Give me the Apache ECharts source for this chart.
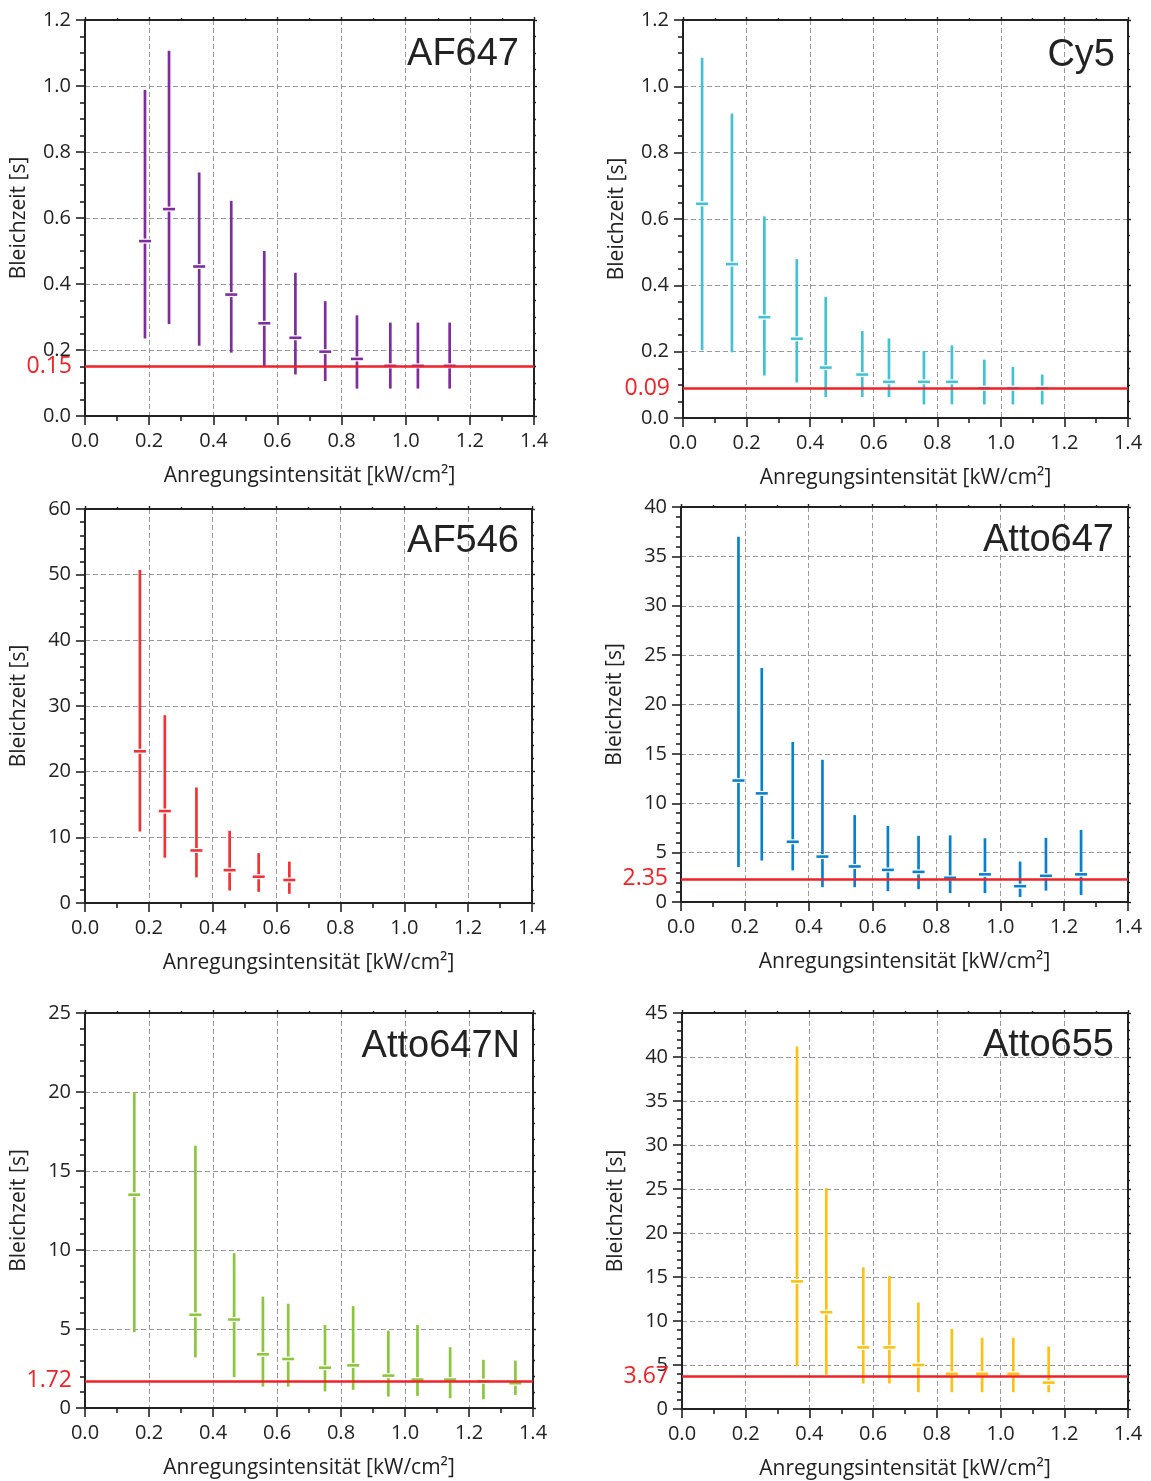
<!DOCTYPE html>
<html>
<head>
<meta charset="utf-8">
<script src="https://cdn.jsdelivr.net/npm/echarts@6/dist/echarts.min.js"></script>
<style>
html,body{margin:0;padding:0;background:#fff;}
#chart{width:1151px;height:1481px;}
</style>
</head>
<body>
<div id="chart"></div>
<script>
// ---- data (x = excitation intensity, low / mean / high = bleaching time range) ----
const xTicks = [0.0, 0.2, 0.4, 0.6, 0.8, 1.0, 1.2, 1.4];

const af647_x    = [0.187, 0.262, 0.356, 0.456, 0.559, 0.656, 0.749, 0.848, 0.952, 1.038, 1.137];
const af647_low  = [0.235, 0.279, 0.213, 0.192, 0.151, 0.126, 0.106, 0.083, 0.083, 0.083, 0.083];
const af647_mean = [0.530, 0.627, 0.453, 0.368, 0.281, 0.237, 0.195, 0.173, 0.152, 0.152, 0.152];
const af647_high = [0.988, 1.107, 0.738, 0.652, 0.500, 0.434, 0.348, 0.305, 0.283, 0.283, 0.283];
const af647_ref  = 0.15;

const cy5_x    = [0.060, 0.154, 0.256, 0.358, 0.449, 0.564, 0.648, 0.758, 0.846, 0.948, 1.038, 1.130];
const cy5_low  = [0.204, 0.198, 0.128, 0.107, 0.063, 0.063, 0.063, 0.041, 0.041, 0.041, 0.041, 0.041];
const cy5_mean = [0.646, 0.464, 0.304, 0.239, 0.152, 0.131, 0.109, 0.109, 0.109, 0.090, 0.090, 0.090];
const cy5_high = [1.086, 0.918, 0.608, 0.479, 0.365, 0.262, 0.240, 0.202, 0.219, 0.176, 0.154, 0.131];
const cy5_ref  = 0.09;

const af546_x    = [0.172, 0.250, 0.349, 0.453, 0.544, 0.640];
const af546_low  = [10.9, 6.9, 3.9, 1.9, 1.7, 1.4];
const af546_mean = [23.1, 14.0, 8.0, 5.0, 4.0, 3.5];
const af546_high = [50.7, 28.6, 17.6, 11.0, 7.6, 6.3];
const af546_ref  = null;

const atto647_x    = [0.180, 0.253, 0.350, 0.443, 0.544, 0.648, 0.744, 0.843, 0.952, 1.062, 1.143, 1.253];
const atto647_low  = [3.55, 4.2, 3.2, 1.5, 1.5, 1.1, 1.3, 0.9, 0.9, 0.5, 1.15, 0.7];
const atto647_mean = [12.3, 11.0, 6.1, 4.6, 3.6, 3.25, 3.05, 2.45, 2.8, 1.6, 2.65, 2.8];
const atto647_high = [37.0, 23.7, 16.2, 14.4, 8.8, 7.7, 6.7, 6.75, 6.45, 4.1, 6.5, 7.3];
const atto647_ref  = 2.35;

const atto647n_x    = [0.154, 0.345, 0.466, 0.556, 0.635, 0.750, 0.838, 0.948, 1.039, 1.141, 1.245, 1.345];
const atto647n_low  = [4.8, 3.2, 1.95, 1.35, 1.35, 1.05, 1.15, 0.72, 0.77, 0.62, 0.55, 0.83];
const atto647n_mean = [13.5, 5.9, 5.6, 3.4, 3.1, 2.55, 2.7, 2.05, 1.8, 1.8, 1.7, 1.57];
const atto647n_high = [20.0, 16.6, 9.8, 7.05, 6.6, 5.25, 6.45, 4.9, 5.25, 3.85, 3.05, 3.0];
const atto647n_ref  = 1.72;

const atto655_x    = [0.361, 0.453, 0.569, 0.651, 0.742, 0.847, 0.942, 1.040, 1.151];
const atto655_low  = [4.9, 3.9, 2.9, 2.9, 1.9, 1.9, 1.9, 1.9, 1.9];
const atto655_mean = [14.5, 11.0, 7.0, 7.0, 5.0, 4.0, 4.0, 4.0, 3.0];
const atto655_high = [41.2, 25.1, 16.1, 15.1, 12.1, 9.1, 8.1, 8.1, 7.1];
const atto655_ref  = 3.67;

const panelNames = ['AF647', 'Cy5', 'AF546', 'Atto647', 'Atto647N', 'Atto655'];
const yAxisName = 'Bleichzeit [s]';
const xAxisName = 'Anregungsintensität [kW/cm²]';

// ---- panel setup ----
const panels = [
  {name: panelNames[0], x: af647_x, lo: af647_low, mean: af647_mean, hi: af647_high, ref: af647_ref,
   color: '#7E2E9C', yMax: 1.2, yInt: 0.2, yMinor: 4, dec: 1,
   grid: {left: 85, top: 20, width: 449, height: 396}, title: {right: 632, top: 35}},
  {name: panelNames[1], x: cy5_x, lo: cy5_low, mean: cy5_mean, hi: cy5_high, ref: cy5_ref,
   color: '#45C1D3', yMax: 1.2, yInt: 0.2, yMinor: 4, dec: 1,
   grid: {left: 683, top: 20, width: 445, height: 398}, title: {right: 36, top: 36}},
  {name: panelNames[2], x: af546_x, lo: af546_low, mean: af546_mean, hi: af546_high, ref: af546_ref,
   color: '#EE3438', yMax: 60, yInt: 10, yMinor: 5, dec: 0,
   grid: {left: 85, top: 509, width: 447, height: 394}, title: {right: 632, top: 522}},
  {name: panelNames[3], x: atto647_x, lo: atto647_low, mean: atto647_mean, hi: atto647_high, ref: atto647_ref,
   color: '#0A80CD', yMax: 40, yInt: 5, yMinor: 5, dec: 0,
   grid: {left: 681, top: 507, width: 447, height: 395}, title: {right: 37, top: 521}},
  {name: panelNames[4], x: atto647n_x, lo: atto647n_low, mean: atto647n_mean, hi: atto647n_high, ref: atto647n_ref,
   color: '#8CC63E', yMax: 25, yInt: 5, yMinor: 5, dec: 0,
   grid: {left: 85, top: 1013, width: 448, height: 395}, title: {right: 631, top: 1027}},
  {name: panelNames[5], x: atto655_x, lo: atto655_low, mean: atto655_mean, hi: atto655_high, ref: atto655_ref,
   color: '#FDC116', yMax: 45, yInt: 5, yMinor: 5, dec: 0,
   grid: {left: 682, top: 1013, width: 446, height: 396}, title: {right: 37, top: 1026}}
];

const FONT = '"Open Sans", "Noto Sans", sans-serif';
const AXIS_COLOR = '#222';
const RED = '#EE2229';
const TICK_FS = 20;
const NAME_FS = 21;

function renderErr(params, api) {
  const x = api.value(0), lo = api.value(1), mean = api.value(2), hi = api.value(3);
  const pLo = api.coord([x, lo]);
  const pHi = api.coord([x, hi]);
  const pM = api.coord([x, mean]);
  const color = api.visual('color');
  return {
    type: 'group',
    children: [
      {type: 'line', shape: {x1: pLo[0], y1: pLo[1], x2: pHi[0], y2: pHi[1]},
       style: {stroke: color, lineWidth: 2.7}},
      {type: 'line', shape: {x1: pM[0] - 7, y1: pM[1], x2: pM[0] + 7, y2: pM[1]},
       style: {stroke: '#fff', lineWidth: 5}},
      {type: 'line', shape: {x1: pM[0] - 6, y1: pM[1], x2: pM[0] + 6, y2: pM[1]},
       style: {stroke: color, lineWidth: 2.6}}
    ]
  };
}

const grids = [], xAxes = [], yAxes = [], series = [], titles = [];
panels.forEach((p, i) => {
  grids.push(Object.assign({}, p.grid, {containLabel: false}));
  titles.push({
    text: p.name, right: p.title.right, top: p.title.top, padding: 0,
    textStyle: {fontFamily: '"Liberation Sans", Arial, sans-serif', fontSize: 38, fontWeight: 'normal', color: '#222', lineHeight: 40}
  });
  // bottom x axis
  xAxes.push({
    type: 'value', gridIndex: i, position: 'bottom', min: 0, max: 1.4, interval: 0.2,
    axisLine: {show: true, onZero: false, lineStyle: {color: AXIS_COLOR, width: 2}},
    axisTick: {show: true, inside: false, length: 9, lineStyle: {color: AXIS_COLOR, width: 1.6}},
    minorTick: {show: true, splitNumber: 2, length: 5, lineStyle: {color: AXIS_COLOR, width: 1.6}},
    splitLine: {show: true, lineStyle: {color: '#9a9a9a', width: 1, type: [5, 3]}},
    axisLabel: {show: true, margin: 15, fontSize: TICK_FS, fontFamily: FONT, color: '#222',
      formatter: v => v.toFixed(1)},
    name: xAxisName, nameLocation: 'middle', nameGap: 50,
    nameTextStyle: {fontSize: NAME_FS, fontFamily: FONT, color: '#222'}
  });
  // top mirror
  xAxes.push({
    type: 'value', gridIndex: i, position: 'top', min: 0, max: 1.4, interval: 0.2,
    axisLine: {show: true, onZero: false, lineStyle: {color: AXIS_COLOR, width: 2}},
    axisTick: {show: true, inside: false, length: 3, lineStyle: {color: AXIS_COLOR, width: 1.4}},
    minorTick: {show: true, splitNumber: 2, length: 2, lineStyle: {color: AXIS_COLOR, width: 1.4}},
    splitLine: {show: false}, axisLabel: {show: false}
  });
  // left y axis
  yAxes.push({
    type: 'value', gridIndex: i, position: 'left', min: 0, max: p.yMax, interval: p.yInt,
    axisLine: {show: true, onZero: false, lineStyle: {color: AXIS_COLOR, width: 2}},
    axisTick: {show: true, inside: false, length: 9, lineStyle: {color: AXIS_COLOR, width: 1.6}},
    minorTick: {show: true, splitNumber: p.yMinor, length: 5, lineStyle: {color: AXIS_COLOR, width: 1.6}},
    splitLine: {show: true, lineStyle: {color: '#9a9a9a', width: 1, type: [5, 3]}},
    axisLabel: {show: true, margin: 14, fontSize: TICK_FS, fontFamily: FONT, color: '#222',
      formatter: v => v.toFixed(p.dec)},
    name: yAxisName, nameLocation: 'middle', nameGap: 55,
    nameTextStyle: {fontSize: NAME_FS, fontFamily: FONT, color: '#222'}
  });
  // right mirror
  yAxes.push({
    type: 'value', gridIndex: i, position: 'right', min: 0, max: p.yMax, interval: p.yInt,
    axisLine: {show: true, onZero: false, lineStyle: {color: AXIS_COLOR, width: 2}},
    axisTick: {show: true, inside: false, length: 3, lineStyle: {color: AXIS_COLOR, width: 1.4}},
    minorTick: {show: true, splitNumber: p.yMinor, length: 2, lineStyle: {color: AXIS_COLOR, width: 1.4}},
    splitLine: {show: false}, axisLabel: {show: false}
  });

  const data = p.x.map((xv, k) => [xv, p.lo[k], p.mean[k], p.hi[k]]);
  const s = {
    type: 'custom', name: p.name, xAxisIndex: 2 * i, yAxisIndex: 2 * i,
    renderItem: renderErr, itemStyle: {color: p.color},
    encode: {x: 0, y: [1, 2, 3]}, data: data, silent: true, clip: false
  };
  if (p.ref !== null) {
    const refLabel = {show: true, position: 'start', distance: 13, color: RED,
      fontSize: 23, fontFamily: FONT, formatter: String(p.ref)};
    s.markLine = {
      silent: true, symbol: ['none', 'none'], animation: false,
      lineStyle: {color: RED, width: 2.5, type: 'solid'},
      label: refLabel,
      data: [{yAxis: p.ref, label: refLabel}]
    };
  }
  series.push(s);
});

const chart = echarts.init(document.getElementById('chart'), null, {renderer: 'canvas'});
chart.setOption({
  animation: false,
  backgroundColor: '#fff',
  title: titles,
  grid: grids,
  xAxis: xAxes,
  yAxis: yAxes,
  series: series
});
</script>
</body>
</html>
